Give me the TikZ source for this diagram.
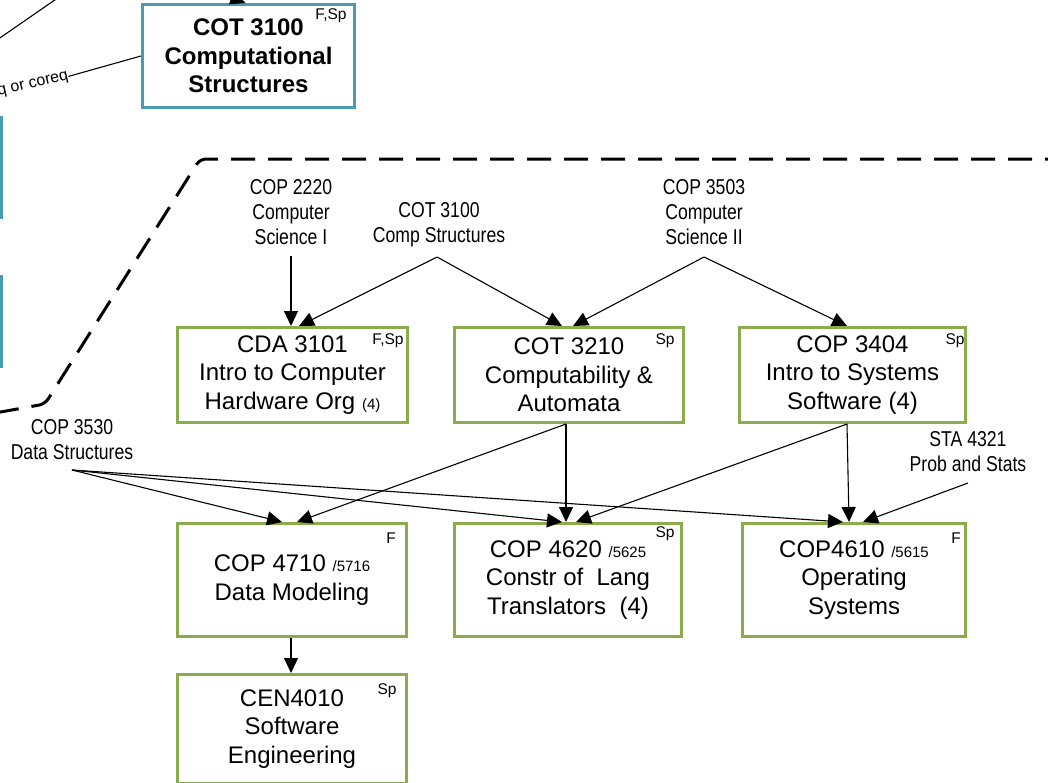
\documentclass[tikz,border=0pt]{standalone}
\usepackage{fontspec}
\setmainfont{Liberation Sans}
\newfontfamily\narrowfont[FakeStretch=0.82]{Liberation Sans}
\usetikzlibrary{arrows.meta,calc}
\definecolor{tealc}{RGB}{74,155,176}
\definecolor{greenc}{RGB}{138,172,76}
\begin{document}
\begin{tikzpicture}[x=1pt,y=-1pt,
  tealbox/.style={draw=tealc, line width=3pt, fill=white, inner sep=0pt, align=center, font=\fontsize{24}{28.5}\selectfont\bfseries},
  greenbox/.style={draw=greenc, line width=3pt, fill=white, inner sep=0pt, align=center, font=\fontsize{24}{28.5}\selectfont},
  lbl/.style={align=center, inner sep=0pt, font=\narrowfont\fontsize{21.5}{25}\selectfont},
  supl/.style={inner sep=0pt, font=\fontsize{15.5}{16}\selectfont},
  conn/.style={line width=1.1pt, -{Triangle[length=15pt,width=14pt]}},
  plainln/.style={line width=1.1pt},
  bnd/.style={dash pattern=on 24pt off 13pt, line width=3pt, rounded corners=6pt}
]
\fill[white] (0,0) rectangle (1048,782);
\useasboundingbox (0,0) rectangle (1048,782);

% boundary
\draw[bnd] (-5,413) -- (45,404) -- (200,159) -- (1060,159);

% left, partially visible boxes
\node[tealbox, minimum width=100pt, minimum height=100pt] (lb1) at (-48.5,167.5) {};
\node[tealbox, minimum width=100pt, minimum height=90pt] (lb2) at (-48.5,321.5) {};

% top-left line
\coordinate (tla) at (62,-5);
\coordinate (tlb) at (-6,42);
\draw[plainln] (tla) -- (tlb);

% COT 3100 bold box
\node[tealbox, minimum width=212pt, minimum height=103pt] (cot) at (248.5,56) {COT 3100\\Computational\\Structures};
\node[supl] (cotsup) at ($(cot.north east)+(-25,13)$) {F,Sp};
\coordinate (tin) at (180,-22);
\draw[conn] (tin) -- ($(cot.north)+(-3,0)$);

\node[rotate=13, anchor=base east, inner sep=0pt, font=\fontsize{16}{16}\selectfont] (coreq) at (69,79) {q or coreq};
\draw[plainln] (coreq.east) -- (cot.west);

% labels
\node[lbl] (l2220) at (291,212) {COP 2220\\Computer\\Science I};
\node[lbl] (l3100) at (439,224.5) {COT 3100\\Comp Structures};
\node[lbl] (l3503) at (704,212) {COP 3503\\Computer\\Science II};
\node[lbl] (l3530) at (72,439.5) {COP 3530\\Data Structures};
\node[lbl] (l4321) at (968,452) {STA 4321\\Prob and Stats};

\coordinate (s2220) at (291,256);
\coordinate (s3100) at (437,257);
\coordinate (s3503) at (704,257);
\coordinate (s3530) at (72,470);
\coordinate (s4321) at (968,483);

% row 1
\node[greenbox, minimum width=230pt, minimum height=95pt] (cda) at (292.5,375) {CDA 3101\\Intro to Computer\\Hardware Org {\fontsize{15}{15}\selectfont(4)}};
\node[supl] (cdasup) at ($(cda.north east)+(-21,15)$) {F,Sp};
\node[greenbox, minimum width=229pt, minimum height=95pt] (cot3210) at (569,375) {COT 3210\\Computability \&\\Automata};
\node[supl] (cot3210sup) at ($(cot3210.north east)+(-20,15)$) {Sp};
\node[greenbox, minimum width=226pt, minimum height=95pt] (cop3404) at (852.5,375) {COP 3404\\Intro to Systems\\Software (4)};
\node[supl] (cop3404sup) at ($(cop3404.north east)+(-12,15)$) {Sp};

% row 2
\node[greenbox, minimum width=229pt, minimum height=113pt] (cop4710) at (292,580) {COP 4710 {\fontsize{15}{15}\selectfont/5716}\\Data Modeling};
\node[supl] (cop4710sup) at ($(cop4710.north east)+(-17,16)$) {F};
\node[greenbox, minimum width=227pt, minimum height=113pt] (cop4620) at (568,580) {COP 4620 {\fontsize{15}{15}\selectfont/5625}\\Constr of\ \ Lang\\Translators\ \ (4)};
\node[supl] (cop4620sup) at ($(cop4620.north east)+(-18,12)$) {Sp};
\node[greenbox, minimum width=223pt, minimum height=113pt] (cop4610) at (854,580) {COP4610 {\fontsize{15}{15}\selectfont/5615}\\Operating\\Systems};
\node[supl] (cop4610sup) at ($(cop4610.north east)+(-11,16)$) {F};

% row 3
\node[greenbox, minimum width=229pt, minimum height=109pt] (cen) at (292,729) {CEN4010\\Software\\Engineering};
\node[supl] (censup) at ($(cen.north east)+(-21,18)$) {Sp};

% connectors
\draw[conn] (s2220) -- (s2220 |- cda.north);
\draw[conn] (s3100) -- ($(cda.north)+(6.5,0)$);
\draw[conn] (s3100) -- ($(cot3210.north)+(-7,0)$);
\draw[conn] (s3503) -- ($(cot3210.north)+(4,0)$);
\draw[conn] (s3503) -- ($(cop3404.north)+(-5.5,0)$);
\draw[conn] ($(cot3210.south)+(-3,0)$) -- ($(cop4710.north)+(5,0)$);
\draw[conn] ($(cot3210.south)+(-3,0)$) -- ($(cop4620.north)+(-2,0)$);
\draw[conn] ($(cop3404.south)+(-5.5,0)$) -- ($(cop4620.north)+(8,0)$);
\draw[conn] ($(cop3404.south)+(-5.5,0)$) -- ($(cop4610.north)+(-5,0)$);
\draw[conn] (s3530) -- ($(cop4710.north)+(-10,0)$);
\draw[conn] (s3530) -- ($(cop4620.north)+(-6,0)$);
\draw[conn] (s3530) -- ($(cop4610.north)+(-11,0)$);
\draw[conn] (s4321) -- ($(cop4610.north)+(9,0)$);
\draw[conn] ($(cop4710.south)+(-1,0)$) -- ($(cen.north)+(-1,0)$);
\end{tikzpicture}
\end{document}
